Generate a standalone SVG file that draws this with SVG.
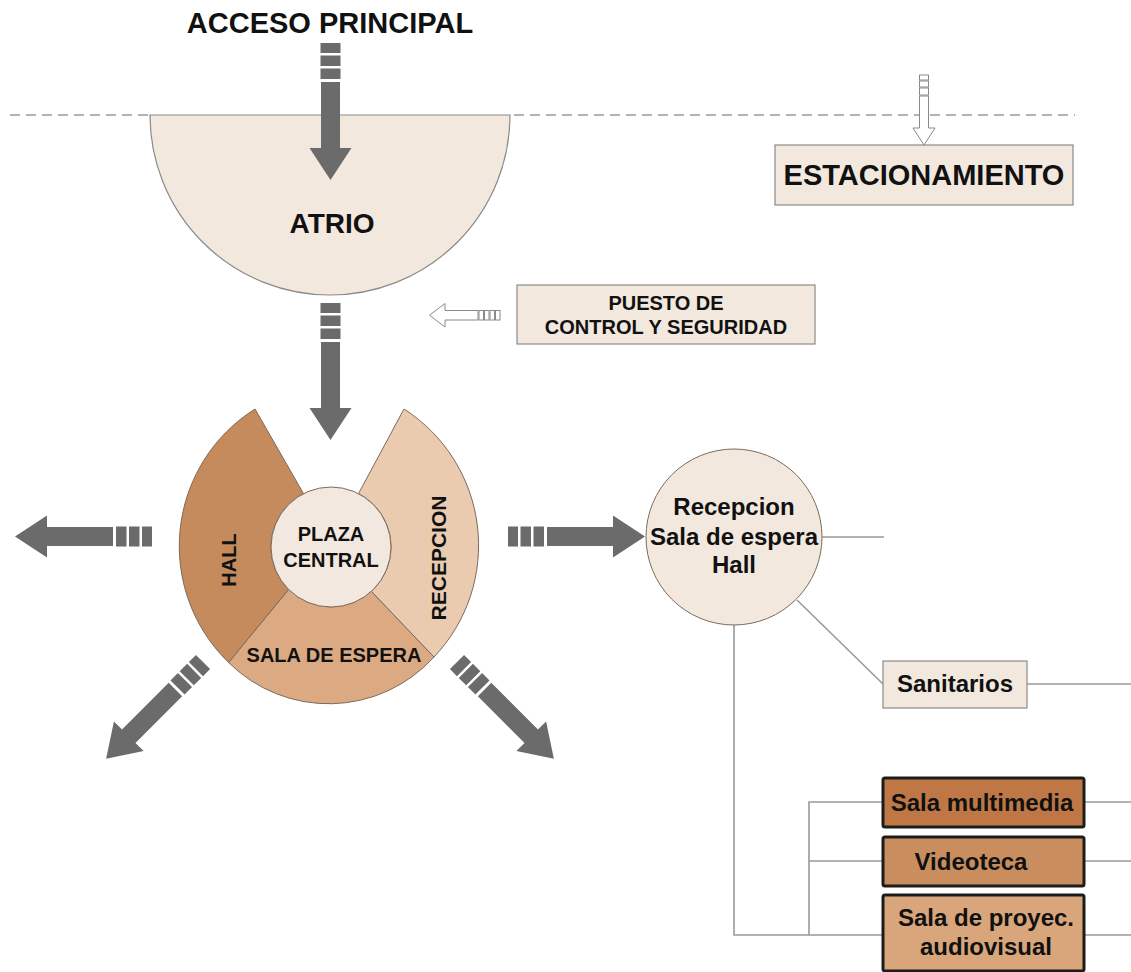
<svg xmlns="http://www.w3.org/2000/svg" width="1131" height="972" viewBox="0 0 1131 972">
<defs>
<style>
text{font-family:"Liberation Sans",Arial,sans-serif;font-weight:bold;fill:#111;text-anchor:middle}
.pale{fill:#f3e8de;stroke:#8a8a8a;stroke-width:1.2}
.seg{stroke:#7d6a5a;stroke-width:1}
.ln{stroke:#9a9a9a;stroke-width:1.6;fill:none}
.dash{stroke:#9a9a9a;stroke-width:1.3;stroke-dasharray:10 6}
.darr{fill:#6b6b6b}
.oarr{fill:#fff;stroke:#8a8a8a;stroke-width:1}
.box{stroke:#1c1c1c;stroke-width:3}
</style>
<g id="bigArrow">
<rect class="darr" x="0" y="-10" width="10" height="20"/>
<rect class="darr" x="12.5" y="-10" width="10.5" height="20"/>
<rect class="darr" x="25.5" y="-10" width="10.5" height="20"/>
<path class="darr" d="M39,-9.5 L105,-9.5 L105,-21 L137,0 L105,21 L105,9.5 L39,9.5 Z"/>
</g>
</defs>
<rect width="1131" height="972" fill="#fff"/>

<g id="acceso">
<text x="330" y="33" font-size="29">ACCESO PRINCIPAL</text>
</g>

<g id="atrio">
<path class="pale" d="M150,115 A180,180 0 0 0 510,115 Z"/>
<text x="332" y="233" font-size="28">ATRIO</text>
</g>

<g id="estacionamiento">
<rect class="pale" x="775" y="145" width="298" height="60"/>
<text x="924" y="185" font-size="29">ESTACIONAMIENTO</text>
</g>

<g id="puesto">
<rect class="pale" x="517" y="285" width="298" height="59"/>
<text x="666" y="310" font-size="20">PUESTO DE</text>
<text x="666" y="334" font-size="20">CONTROL Y SEGURIDAD</text>
</g>

<g id="sala-espera">
<path class="seg" fill="#dbaa82" d="M228.6,662.5 L288.6,589.4 A60,60 0 0 0 371.4,591.3 L434,657 A142,142 0 0 1 228.6,662.5 Z"/>
<text x="334" y="662" font-size="20">SALA DE ESPERA</text>
</g>
<g id="hall">
<path class="seg" fill="#c68b5d" d="M255,409 A162,162 0 0 0 228.6,662.5 L288.6,589.4 A60,60 0 0 1 303.5,493.6 Z"/>
<text transform="translate(236,560) rotate(-90)" font-size="20">HALL</text>
</g>
<g id="recepcion">
<path class="seg" fill="#eacbb0" d="M404,409 L358.5,493.6 A60,60 0 0 1 371.4,591.3 L434,657 A162,162 0 0 0 404,409 Z"/>
<text transform="translate(446,558) rotate(-90)" font-size="21">RECEPCION</text>
</g>
<g id="plaza-central">
<circle cx="331" cy="547" r="60" fill="#f3e8df" stroke="#7d6a5a" stroke-width="1"/>
<text x="331" y="541" font-size="20">PLAZA</text>
<text x="331" y="567" font-size="20">CENTRAL</text>
</g>

<g id="connectors">
<line class="dash" x1="10" y1="115" x2="150" y2="115"/>
<line class="dash" x1="514" y1="115" x2="1075" y2="115"/>
<use href="#bigArrow" transform="translate(330.5,43) rotate(90)"/>
<use href="#bigArrow" transform="translate(330.5,303) rotate(90)"/>
<use href="#bigArrow" transform="translate(152,536.5) rotate(180)"/>
<use href="#bigArrow" transform="translate(508,536.5)"/>
<use href="#bigArrow" transform="translate(203,662) rotate(135)"/>
<use href="#bigArrow" transform="translate(457,662) rotate(45)"/>
<rect class="oarr" x="919.5" y="75" width="9" height="5"/>
<rect class="oarr" x="919.5" y="81" width="9" height="6"/>
<rect class="oarr" x="919.5" y="88" width="9" height="7"/>
<path class="oarr" d="M919.5,96 L928.5,96 L928.5,128 L935,128 L924,145 L913,128 L919.5,128 Z"/>
<rect class="oarr" x="495.5" y="310.5" width="4.5" height="9.5"/>
<rect class="oarr" x="490" y="310.5" width="4.5" height="9.5"/>
<rect class="oarr" x="484.5" y="310.5" width="4.5" height="9.5"/>
<rect class="oarr" x="479" y="310.5" width="4.5" height="9.5"/>
<path class="oarr" d="M478,310.5 L445,310.5 L445,303.5 L429.5,315.2 L445,327 L445,320 L478,320 Z"/>
<line class="ln" x1="822" y1="537" x2="884" y2="537"/>
<line class="ln" x1="797" y1="600" x2="883" y2="684"/>
<line class="ln" x1="1027" y1="684" x2="1131" y2="684"/>
<polyline class="ln" points="734,625 734,935 883,935"/>
<polyline class="ln" points="883,802 809,802 809,935"/>
<line class="ln" x1="809" y1="861" x2="883" y2="861"/>
<line class="ln" x1="1084" y1="802" x2="1131" y2="802"/>
<line class="ln" x1="1084" y1="861" x2="1131" y2="861"/>
<line class="ln" x1="1084" y1="935" x2="1131" y2="935"/>
</g>

<g id="recepcion-hall">
<circle cx="734" cy="537" r="88" fill="#f3e8de" stroke="#7d6a5a" stroke-width="1"/>
<text x="734" y="515" font-size="24">Recepcion</text>
<text x="734" y="545" font-size="24">Sala de espera</text>
<text x="734" y="573" font-size="24">Hall</text>
</g>

<g id="sanitarios">
<rect class="pale" x="883" y="661" width="144" height="47"/>
<text x="955" y="692" font-size="24">Sanitarios</text>
</g>

<g id="sala-multimedia">
<rect class="box" x="883" y="778" width="201" height="49" rx="2" fill="#bf7845"/>
<text x="982" y="811" font-size="24">Sala multimedia</text>
</g>
<g id="videoteca">
<rect class="box" x="883" y="837" width="201" height="49" rx="2" fill="#c98d5e"/>
<text x="971" y="870" font-size="24">Videoteca</text>
</g>
<g id="sala-proyeccion">
<rect class="box" x="883" y="895" width="201" height="76" rx="2" fill="#d8a67a"/>
<text x="986" y="926" font-size="24">Sala de proyec.</text>
<text x="986" y="955" font-size="24">audiovisual</text>
</g>
</svg>
